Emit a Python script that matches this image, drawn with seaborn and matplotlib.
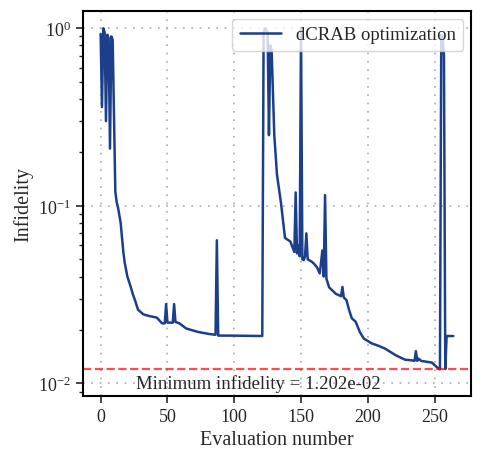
import matplotlib
matplotlib.use("Agg")
import matplotlib.pyplot as plt
import seaborn as sns
import pandas as pd
import numpy as np

# Evaluation numbers and infidelity values
evaluation = [0, 1, 2, 3, 4, 5, 6, 7, 8, 9, 11, 12, 13, 15, 16, 17, 18, 20, 22, 24, 26,
              28, 32, 36, 42, 46,
              48, 49, 50, 54, 55, 56, 59, 64, 73, 81, 86, 87, 88, 96, 121,
              122, 123, 125, 126, 127, 128, 130, 132, 135, 138, 142, 145, 146, 147,
              148, 149, 150, 151, 152, 153, 154, 155, 158, 160, 162, 164, 165, 166,
              167, 168, 169, 171, 176, 180, 181, 182, 184, 186, 188, 191, 194, 197, 203,
              208, 213, 221, 228, 233, 235, 236, 237, 238, 240, 248, 253, 254, 255, 256,
              257, 258, 259, 264]
infidelity = [0.93, 0.36, 1.0, 0.95, 0.30, 0.92, 0.88, 0.21, 0.90, 0.86, 0.12, 0.105,
              0.098, 0.080, 0.066, 0.055, 0.048, 0.040, 0.036, 0.032, 0.029,
              0.026, 0.0245, 0.024, 0.0235, 0.0218,
              0.0218, 0.028, 0.022, 0.022, 0.028, 0.0222, 0.0218, 0.0204, 0.0195,
              0.019, 0.0188, 0.064, 0.0186, 0.0186, 0.0185,
              0.95, 1.0, 0.95, 0.25, 0.80, 0.75, 0.25, 0.15, 0.104, 0.066, 0.063,
              0.055, 0.119, 0.054, 0.06, 0.052, 1.0, 0.05, 0.0495, 0.052, 0.07,
              0.05, 0.0485, 0.047, 0.045, 0.0417, 0.048, 0.056, 0.04, 0.115, 0.039,
              0.0348, 0.032, 0.031, 0.035, 0.0305, 0.0295, 0.0259, 0.0233, 0.0222,
              0.0195, 0.0179, 0.0168, 0.0163, 0.0157, 0.0144, 0.0136, 0.0135, 0.0134,
              0.0152, 0.0134, 0.0138, 0.0134, 0.0131, 0.0121, 0.01202, 0.92, 0.90,
              0.70, 0.01205, 0.0185, 0.0185]

series_label = "dCRAB optimization"
x_label = "Evaluation number"
y_label = "Infidelity"

sns.set_style("ticks")
plt.rcParams["font.family"] = ["Liberation Serif", "DejaVu Serif"]
plt.rcParams["mathtext.fontset"] = "cm"

df = pd.DataFrame({"Evaluation": evaluation, "Infidelity": infidelity})
min_inf = min(infidelity)

fig = plt.figure(figsize=(4.84, 4.64), dpi=100)
ax = fig.add_axes([0.1715, 0.1444, 0.8015, 0.8296])

sns.lineplot(data=df, x="Evaluation", y="Infidelity", ax=ax, color="#1b3f8b",
             linewidth=1.8, label=series_label)
ax.axhline(min_inf, color="red", linestyle="--", linewidth=1.6, alpha=0.7)
ax.set_yscale("log")
ax.set_ylim(0.0085, 1.25)
ax.set_xlim(-13.2, 277.2)
ax.set_xticks([0, 50, 100, 150, 200, 250])

ax.text(118, 0.0100, f"Minimum infidelity = {min_inf:.3e}", ha="center", va="center",
        fontsize=13.5)

ax.grid(True, which="major", linestyle=(0, (1, 4)), color="#aaaaaa", linewidth=1.2)
ax.set_xlabel(x_label, fontsize=14.5)
ax.set_ylabel(y_label, fontsize=14.5)
ax.tick_params(axis="both", which="major", labelsize=13, length=5, width=1.2)
ax.tick_params(axis="y", which="minor", length=3, width=1.0)
for s in ax.spines.values():
    s.set_linewidth(1.5)
    s.set_color("black")
leg = ax.legend(loc="upper right", fontsize=13.5, frameon=True, fancybox=True,
                borderpad=0.4, handlelength=2.2, borderaxespad=0.4)
leg.get_frame().set_edgecolor("#cccccc")

fig.savefig("out.png", dpi=100)
